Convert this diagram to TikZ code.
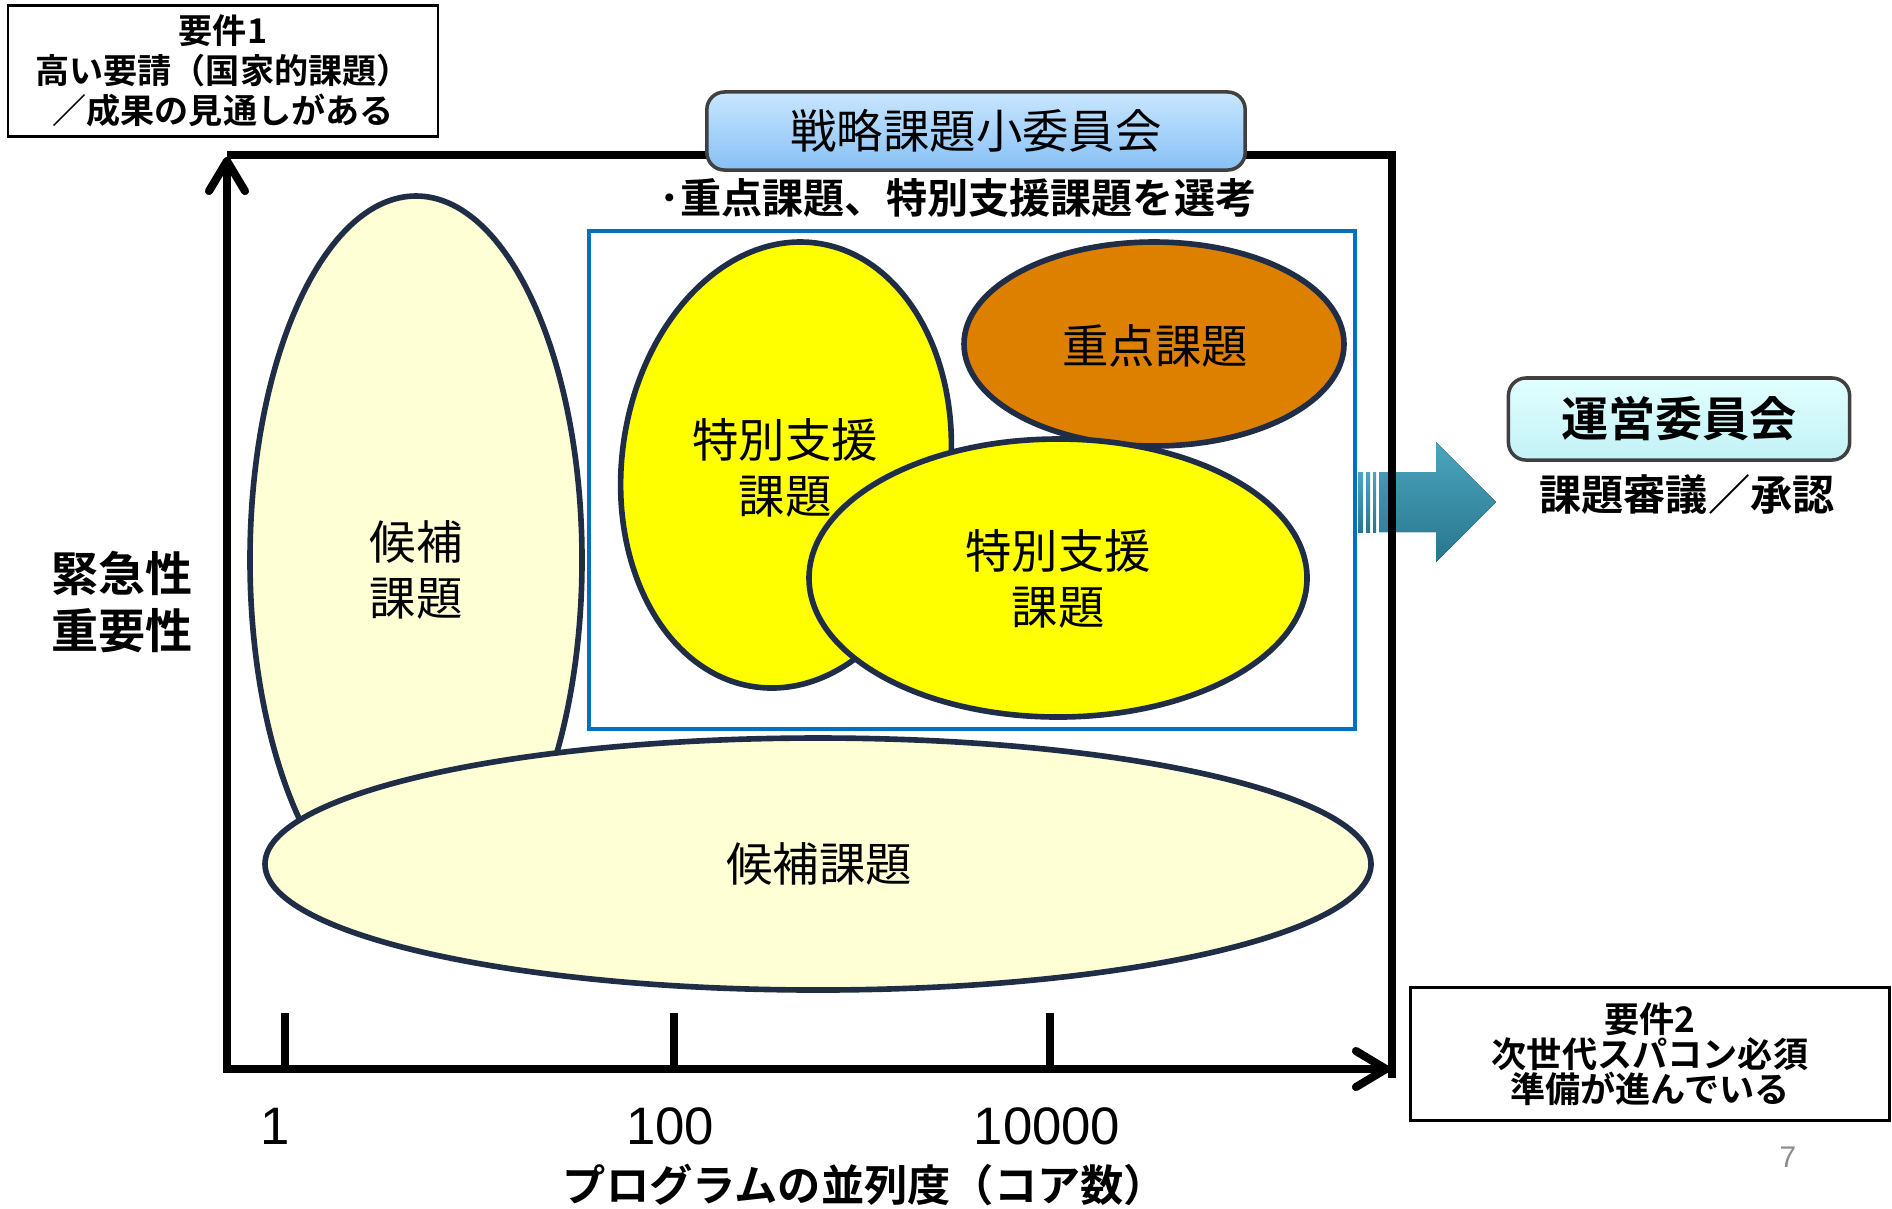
\documentclass[tikz,border=0pt]{standalone}
\usepackage{fontspec}
\setmainfont{Noto Sans CJK JP}[BoldFont={Noto Sans CJK JP Bold}]
\newfontfamily\latin{Liberation Sans}
\usetikzlibrary{arrows.meta}
\definecolor{candfill}{RGB}{255,255,214}
\definecolor{specfill}{RGB}{255,255,0}
\definecolor{priofill}{RGB}{221,128,0}
\definecolor{rimdark}{RGB}{31,45,70}
\definecolor{frameblue}{RGB}{0,112,192}
\definecolor{flowtop}{RGB}{75,165,190}
\definecolor{flowbot}{RGB}{40,118,142}
\definecolor{boxtop}{RGB}{200,230,255}
\definecolor{boxbot}{RGB}{135,192,245}
\definecolor{cyantop}{RGB}{225,255,255}
\definecolor{cyanbot}{RGB}{195,242,245}
\tikzset{
  rim/.style={draw=rimdark, line width=1.6pt},
  cand/.style={rim, fill=candfill},
  spec/.style={rim, fill=specfill},
  prio/.style={rim, fill=priofill},
  lbl/.style={align=center, font=\fontsize{13.2}{16}\selectfont},
  reqbox/.style={draw, line width=0.7pt, align=center, inner sep=0pt},
  axis/.style={line width=2.3pt},
  barb/.style={-{Straight Barb[length=3mm,width=3.6mm,round]}},
  flow/.style={top color=flowtop, bottom color=flowbot},
  council/.style={draw=black!75, line width=1pt, rounded corners=5pt, inner sep=0pt},
  tick/.style={font=\latin\fontsize{15}{17}\selectfont}
}
\begin{document}
\begin{tikzpicture}[x=0.01cm, y=-0.01cm]
\useasboundingbox (0,0) rectangle (1892,1208);

% candidate themes
\filldraw[cand] (416,560) ellipse (166 and 364);
\filldraw[cand] (818,864) ellipse (553 and 126);

% selected themes
\draw[frameblue, line width=1.1pt] (589,231) rectangle (1355,729);
\filldraw[spec, rotate around={-8:(786,465)}] (786,465) ellipse (164 and 224);
\filldraw[prio] (1154,344) ellipse (190 and 102);
\filldraw[spec] (1058,578) ellipse (249 and 139);

% hand-over arrow
\fill[flow] (1379,472) -- (1436,472) -- (1436,442) -- (1496,502) -- (1436,562) -- (1436,532) -- (1379,532) -- cycle;
\fill[flow] (1358,472) rectangle (1363,532);
\fill[flow] (1366,472) rectangle (1370,532);
\fill[flow] (1373,472) rectangle (1376,532);

% axes and frame
\coordinate (orig) at (227,1069);
\coordinate (ytop) at (227,157);
\coordinate (xend) at (1390,1069);
\draw[axis] (227,155) -- (1392,155) -- (1392,1078);
\draw[axis, barb] (orig) -- (ytop);
\draw[axis, barb] (223,1069) -- (xend);
\foreach \x in {285,674,1050}
  \draw[axis] (\x,1013) -- (\x,1069);

% texts in the plot
\node[lbl] (candtall) at (416,570) {候補\\課題};
\node[lbl] (candwide) at (819,864) {候補課題};
\node[lbl] (specleft) at (785,468) {特別支援\\課題};
\node[lbl] (prio) at (1155,346) {重点課題};
\node[lbl] (specright) at (1058,579) {特別支援\\課題};

% committees
\node[council, top color=boxtop, bottom color=boxbot, minimum width=5.38cm, minimum height=0.78cm,
  font=\fontsize{13.2}{15}\selectfont] (subcom) at (976,131) {戦略課題小委員会};
\node[font=\bfseries\fontsize{11.7}{13}\selectfont] (select) at (958,198) {･重点課題、特別支援課題を選考};
\node[council, top color=cyantop, bottom color=cyanbot, minimum width=3.41cm, minimum height=0.82cm,
  font=\bfseries\fontsize{13.4}{16}\selectfont] (steer) at (1679,419) {運営委員会};
\node[font=\bfseries\fontsize{12}{14}\selectfont] (approve) at (1687,495) {課題審議／承認};

% requirements
\node[reqbox, minimum width=4.30cm, minimum height=1.31cm,
  font=\bfseries\fontsize{9.7}{11.4}\selectfont] (req1) at (223,71) {要件1\\高い要請（国家的課題）\\／成果の見通しがある};
\node[reqbox, minimum width=4.79cm, minimum height=1.33cm,
  font=\bfseries\fontsize{10}{10}\selectfont] (req2) at (1650,1054) {要件2\\次世代スパコン必須\\準備が進んでいる};

% axis labels
\node[font=\bfseries\fontsize{13.4}{16.2}\selectfont, align=center] (ylab) at (122,602) {緊急性\\重要性};
\node[tick] (t1) at (275,1126) {1};
\node[tick] (t100) at (670,1126) {100};
\node[tick] (t10k) at (1047,1126) {10000};
\node[font=\bfseries\fontsize{12.3}{15}\selectfont] (xlab) at (865,1185) {プログラムの並列度（コア数）};
\node[font=\latin\fontsize{8.5}{10}\selectfont, text=black!45] (page) at (1788,1157) {7};
\end{tikzpicture}
\end{document}
